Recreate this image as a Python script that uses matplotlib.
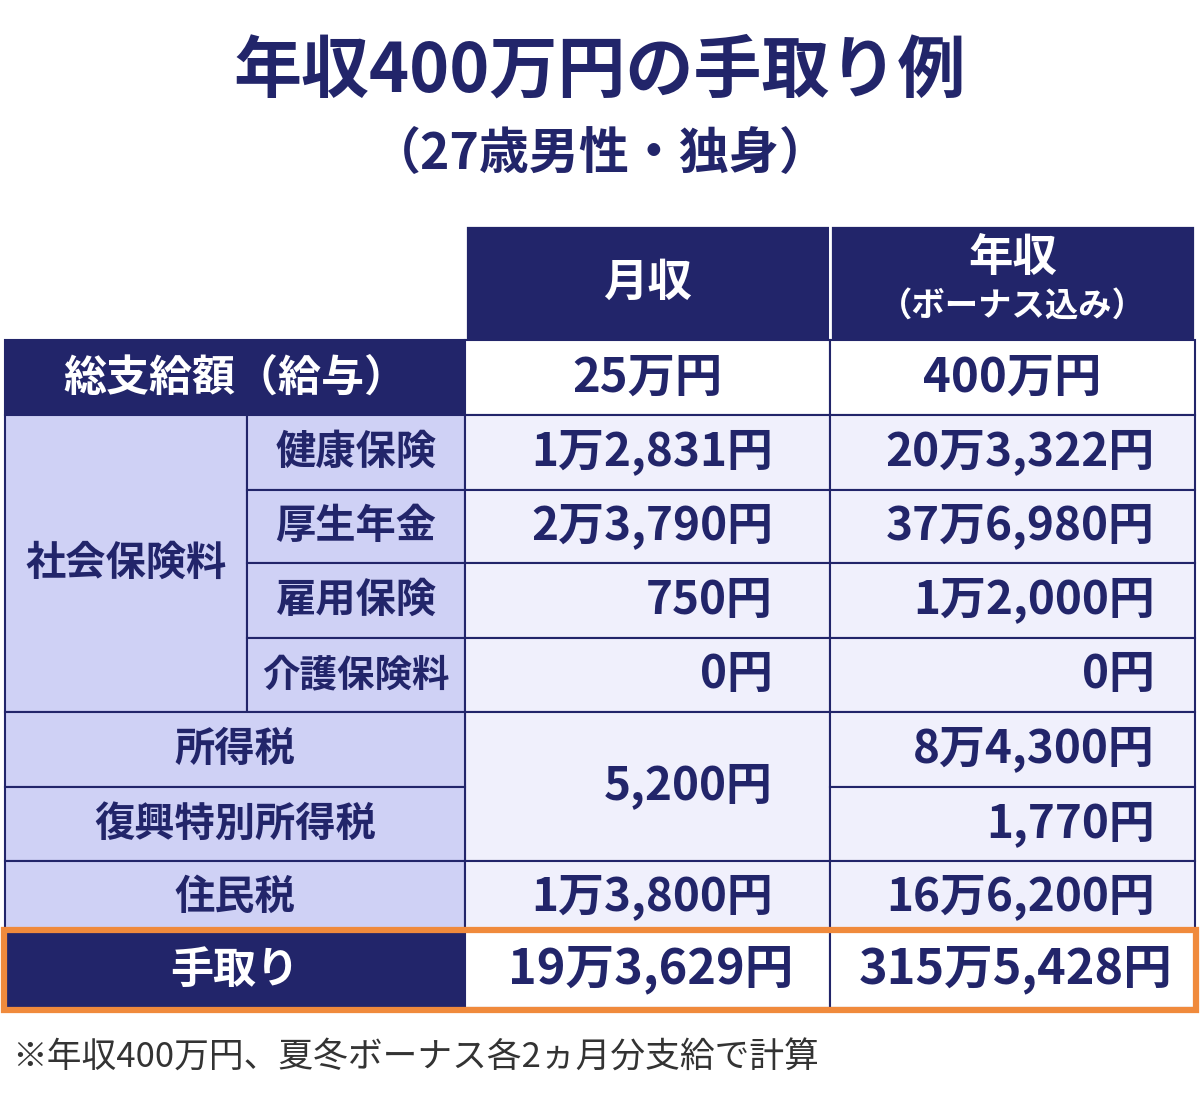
import matplotlib
matplotlib.use("Agg")
import matplotlib.pyplot as plt
from matplotlib.patches import Rectangle

title = "年収400万円の手取り例"
subtitle = "（27歳男性・独身）"
col_headers = ["月収", "年収\n（ボーナス込み）"]
gross_label = "総支給額（給与）"
gross_values = ["25万円", "400万円"]
social_group = "社会保険料"
social_items = ["健康保険", "厚生年金", "雇用保険", "介護保険料"]
social_monthly = ["1万2,831円", "2万3,790円", "750円", "0円"]
social_annual = ["20万3,322円", "37万6,980円", "1万2,000円", "0円"]
tax_items = ["所得税", "復興特別所得税"]
tax_monthly_combined = "5,200円"
tax_annual = ["8万4,300円", "1,770円"]
resident_label = "住民税"
resident_values = ["1万3,800円", "16万6,200円"]
net_label = "手取り"
net_values = ["19万3,629円", "315万5,428円"]
footnote = "※年収400万円、夏冬ボーナス各2ヵ月分支給で計算"

NAVY = "#22256a"
LAV = "#cfd1f5"
PALE = "#f0f0fc"
ORANGE = "#f08a3c"
FONT = "Noto Sans CJK JP"

fig = plt.figure(figsize=(12, 11.03), dpi=100)
ax = fig.add_axes([0, 0, 1, 1])
ax.set_xlim(0, 1200); ax.set_ylim(1103, 0); ax.axis("off")

def cell(x0, x1, y0, y1, fc, ec=NAVY, lw=1.5):
    ax.add_patch(Rectangle((x0, y0), x1 - x0, y1 - y0, facecolor=fc, edgecolor=ec, lw=lw))

def txt(x, y, s, size=33, color=NAVY, ha="center", weight="heavy"):
    ax.text(x, y, s, fontsize=size, color=color, ha=ha, va="center", family=FONT,
            weight=weight, linespacing=1.1)

X = [5, 247, 465, 830, 1195]
R = [225, 340, 415, 490, 563, 638, 712, 787, 861, 930, 1008]
MR, AR = 773, 1155

txt(600, 72, title, size=49)
txt(600, 155, subtitle, size=36)

# header
cell(X[2], X[3], R[0], R[1], NAVY, ec="white", lw=2)
cell(X[3], X[4], R[0], R[1], NAVY, ec="white", lw=2)
txt((X[2]+X[3])/2, 283, col_headers[0], size=32, color="white")
txt((X[3]+X[4])/2, 258, "年収", size=32, color="white")
txt((X[3]+X[4])/2, 306, "（ボーナス込み）", size=24, color="white")

# gross
cell(X[0], X[2], R[1], R[2], NAVY)
txt((X[0]+X[2])/2, 378, gross_label, size=31, color="white")
for i, v in enumerate(gross_values):
    cell(X[2+i], X[3+i], R[1], R[2], "white")
    txt((X[2+i]+X[3+i])/2, 378, v, size=34)

# social
cell(X[0], X[1], R[2], R[6], LAV)
txt((X[0]+X[1])/2, (R[2]+R[6])/2, social_group, size=29)
for i, (lab, m, a) in enumerate(zip(social_items, social_monthly, social_annual)):
    y0, y1 = R[2+i], R[3+i]; yc = (y0+y1)/2
    cell(X[1], X[2], y0, y1, LAV)
    txt((X[1]+X[2])/2, yc, lab, size=29 if len(lab) < 5 else 27)
    cell(X[2], X[3], y0, y1, PALE); cell(X[3], X[4], y0, y1, PALE)
    txt(MR, yc, m, ha="right"); txt(AR, yc, a, ha="right")

# taxes
cell(X[2], X[3], R[6], R[8], PALE)
txt(MR, (R[6]+R[8])/2, tax_monthly_combined, ha="right")
for i, (lab, a) in enumerate(zip(tax_items, tax_annual)):
    y0, y1 = R[6+i], R[7+i]; yc = (y0+y1)/2
    cell(X[0], X[2], y0, y1, LAV)
    txt((X[0]+X[2])/2, yc, lab, size=29)
    cell(X[3], X[4], y0, y1, PALE)
    txt(AR, yc, a, ha="right")

# resident
cell(X[0], X[2], R[8], R[9], LAV)
txt((X[0]+X[2])/2, 897, resident_label, size=29)
cell(X[2], X[3], R[8], R[9], PALE); cell(X[3], X[4], R[8], R[9], PALE)
txt(MR, 897, resident_values[0], ha="right"); txt(AR, 897, resident_values[1], ha="right")

# net
cell(X[0], X[2], R[9], R[10], NAVY)
txt((X[0]+X[2])/2, 970, net_label, size=31, color="white")
cell(X[2], X[3], R[9], R[10], "white"); cell(X[3], X[4], R[9], R[10], "white")
txt(793, 970, net_values[0], size=35, ha="right")
txt(1172, 970, net_values[1], size=35, ha="right")
ax.add_patch(Rectangle((4, 930), 1192, 80, facecolor="none", edgecolor=ORANGE, lw=4.5))

txt(12, 1058, footnote, size=25, color="#333333", ha="left", weight="normal")

fig.savefig("out.png", dpi=100)
